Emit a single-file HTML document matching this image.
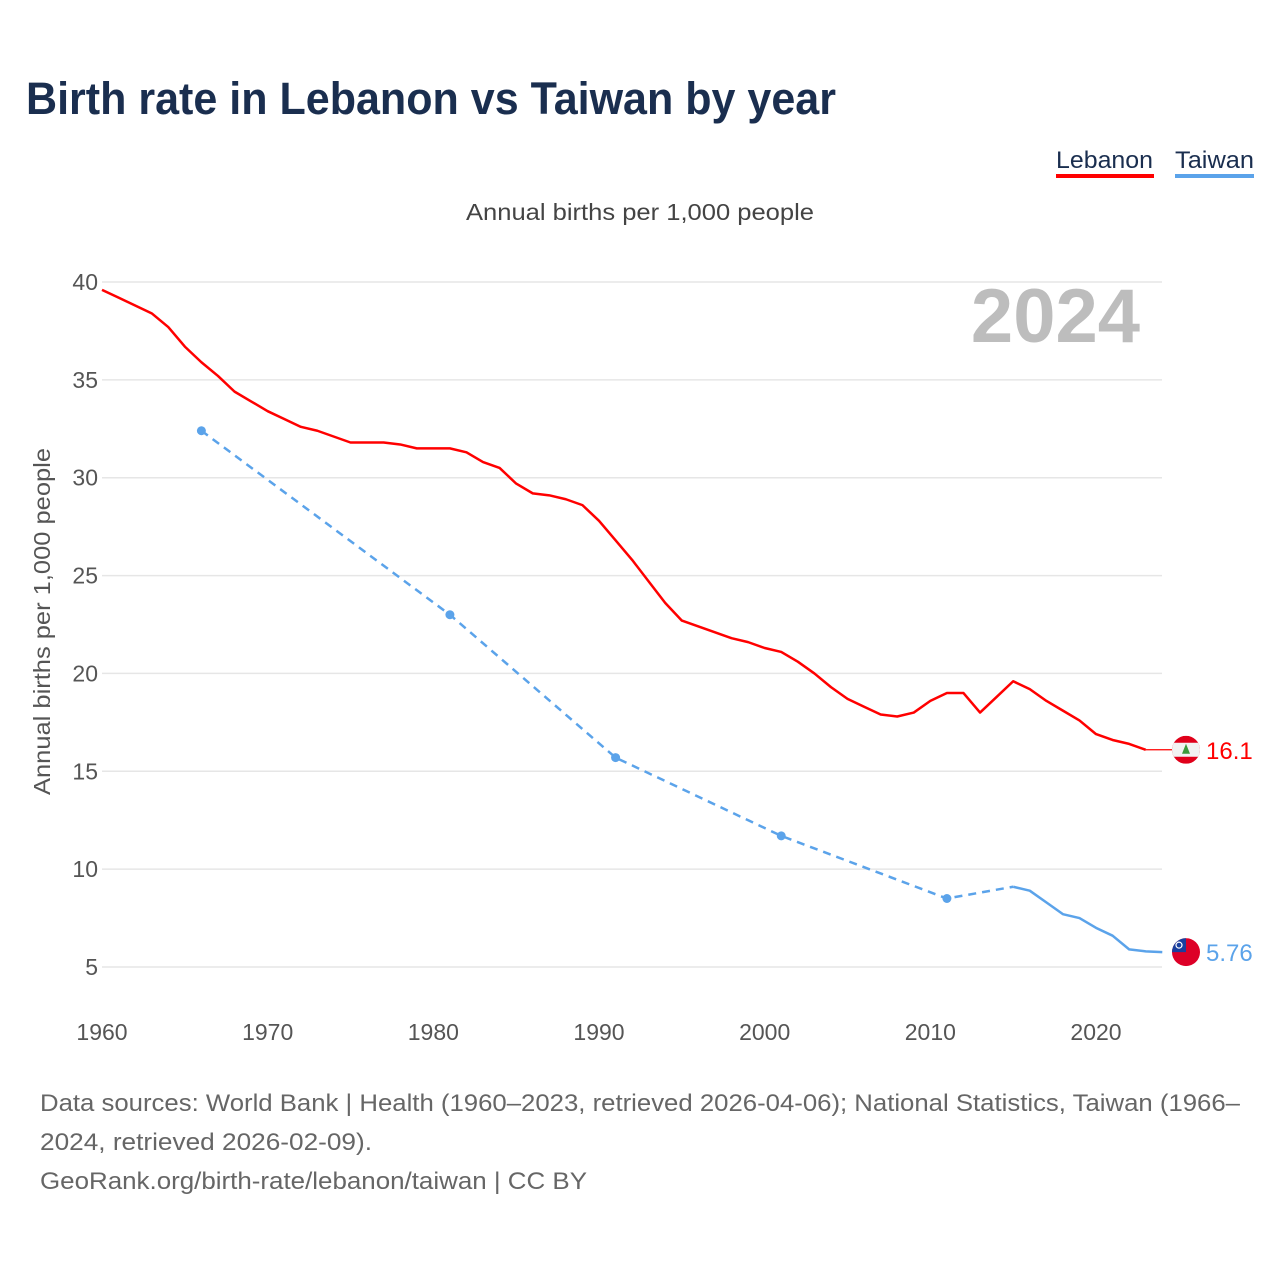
<!DOCTYPE html>
<html><head><meta charset="utf-8"><style>
body{margin:0;background:#fff;font-family:"Liberation Sans",sans-serif}
svg text{font-family:"Liberation Sans",sans-serif}
</style></head><body>
<svg id="c" width="1280" height="1280" xmlns="http://www.w3.org/2000/svg">
<text x="26" y="114" font-size="45" font-weight="bold" fill="#1a2e4f" textLength="810" lengthAdjust="spacingAndGlyphs">Birth rate in Lebanon vs Taiwan by year</text>
<g>
<g><text x="1056" y="168" font-size="24" fill="#1a2e4f" textLength="97" lengthAdjust="spacingAndGlyphs">Lebanon</text><rect x="1056" y="174" width="98" height="4" fill="#ff0000"/></g>
<g><text x="1175" y="168" font-size="24" fill="#1a2e4f" textLength="79" lengthAdjust="spacingAndGlyphs">Taiwan</text><rect x="1175" y="174" width="79" height="4" fill="#5ba3ea"/></g>
</g>
<text x="466" y="220" font-size="23" fill="#444" textLength="348" lengthAdjust="spacingAndGlyphs">Annual births per 1,000 people</text>
<text x="1140" y="342" font-size="76" font-weight="bold" fill="#bdbdbd" text-anchor="end">2024</text>
<text transform="translate(50,795) rotate(-90)" font-size="23" fill="#555" textLength="347" lengthAdjust="spacingAndGlyphs">Annual births per 1,000 people</text>
<g id="grid"></g><g id="marks"></g>
<g font-size="24" fill="#666">
<text x="40" y="1111" textLength="1200" lengthAdjust="spacingAndGlyphs">Data sources: World Bank | Health (1960–2023, retrieved 2026-04-06); National Statistics, Taiwan (1966–</text>
<text x="40" y="1150" textLength="332" lengthAdjust="spacingAndGlyphs">2024, retrieved 2026-02-09).</text>
<text x="40" y="1189" textLength="547" lengthAdjust="spacingAndGlyphs">GeoRank.org/birth-rate/lebanon/taiwan | CC BY</text>
</g>
</svg>
<script>
const yTicks=[5,10,15,20,25,30,35,40];
const xTicks=[1960,1970,1980,1990,2000,2010,2020];
const lebYears=[1960,1961,1962,1963,1964,1965,1966,1967,1968,1969,1970,1971,1972,1973,1974,1975,1976,1977,1978,1979,1980,1981,1982,1983,1984,1985,1986,1987,1988,1989,1990,1991,1992,1993,1994,1995,1996,1997,1998,1999,2000,2001,2002,2003,2004,2005,2006,2007,2008,2009,2010,2011,2012,2013,2014,2015,2016,2017,2018,2019,2020,2021,2022,2023];
const lebValues=[39.6,39.2,38.8,38.4,37.7,36.7,35.9,35.2,34.4,33.9,33.4,33.0,32.6,32.4,32.1,31.8,31.8,31.8,31.7,31.5,31.5,31.5,31.3,30.8,30.5,29.7,29.2,29.1,28.9,28.6,27.8,26.8,25.8,24.7,23.6,22.7,22.4,22.1,21.8,21.6,21.3,21.1,20.6,20.0,19.3,18.7,18.3,17.9,17.8,18.0,18.6,19.0,19.0,18.0,18.8,19.6,19.2,18.6,18.1,17.6,16.9,16.6,16.4,16.1];
const twSparseYears=[1966,1981,1991,2001,2011,2015];
const twSparseValues=[32.4,23.0,15.7,11.7,8.5,9.1];
const twYears=[2015,2016,2017,2018,2019,2020,2021,2022,2023,2024];
const twValues=[9.1,8.9,8.3,7.7,7.5,7.0,6.6,5.9,5.8,5.76];
const lebLast=16.1, twLast=5.76;
const X=y=>102+(y-1960)*16.567;
const Y=v=>967-(v-5)*19.571;
const NS='http://www.w3.org/2000/svg';
function mk(t,a,p){const e=document.createElementNS(NS,t);for(const k in a)e.setAttribute(k,a[k]);p.appendChild(e);return e;}
const grid=document.getElementById('grid'),marks=document.getElementById('marks');
yTicks.forEach(v=>{
 const l=mk('line',{x1:102,x2:1162,y1:Y(v),y2:Y(v),stroke:'#e6e6e6','stroke-width':1.5},grid);
 
 
 const t=mk('text',{x:98,y:Y(v)+8,'font-size':23,fill:'#555','text-anchor':'end'},grid);t.textContent=v;
 
 
});
xTicks.forEach(y=>{
 const t=mk('text',{x:X(y),y:1040,'font-size':23,fill:'#555','text-anchor':'middle'},grid);t.textContent=y;
 
 
});
const pts=(ys,vs)=>ys.map((y,i)=>X(y)+','+Y(vs[i])).join(' ');
const lp=mk('polyline',{points:pts(lebYears,lebValues),fill:'none',stroke:'#ff0000','stroke-width':2.5,'stroke-linejoin':'round'},marks);


const lc=mk('line',{x1:X(2023),y1:Y(lebLast),x2:X(2025),y2:Y(lebLast),stroke:'#ff0000','stroke-width':1.2},marks);


const td=mk('polyline',{points:pts(twSparseYears,twSparseValues),fill:'none',stroke:'#5ba3ea','stroke-width':2.5,'stroke-dasharray':'8 6'},marks);


twSparseYears.slice(0,5).forEach((y,i)=>{
 const c=mk('circle',{cx:X(y),cy:Y(twSparseValues[i]),r:4.5,fill:'#5ba3ea'},marks);
 
 
});
const tl=mk('polyline',{points:pts(twYears,twValues),fill:'none',stroke:'#5ba3ea','stroke-width':2.5,'stroke-linejoin':'round'},marks);


const fx=1186;
const fl=mk('g',{},marks);


const ly=Y(lebLast);
mk('clipPath',{id:'cl'},fl);mk('circle',{cx:fx,cy:ly,r:14},fl.lastChild);
const lg=mk('g',{'clip-path':'url(#cl)'},fl);
mk('rect',{x:fx-14,y:ly-14,width:28,height:28,fill:'#e0001a'},lg);
mk('rect',{x:fx-14,y:ly-7,width:28,height:14,fill:'#f2f2f2'},lg);
mk('polygon',{points:`${fx},${ly-6} ${fx-4},${ly+4} ${fx+4},${ly+4}`,fill:'#3a9a3a'},lg);
const tf=mk('g',{},marks);


const ty=Y(twLast);
mk('clipPath',{id:'ct'},tf);mk('circle',{cx:fx,cy:ty,r:14},tf.lastChild);
const tg=mk('g',{'clip-path':'url(#ct)'},tf);
mk('rect',{x:fx-14,y:ty-14,width:28,height:28,fill:'#dd0027'},tg);
mk('rect',{x:fx-14,y:ty-14,width:14,height:14,fill:'#1a3f9e'},tg);
mk('circle',{cx:fx-7,cy:ty-7,r:3,fill:'none',stroke:'#fff','stroke-width':1.2},tg);
const t1=mk('text',{x:1206,y:ly+9,'font-size':24,fill:'#ff0000'},marks);t1.textContent=lebLast;


const t2=mk('text',{x:1206,y:ty+9,'font-size':24,fill:'#5ba3ea'},marks);t2.textContent=twLast;


</script>
</body></html>
